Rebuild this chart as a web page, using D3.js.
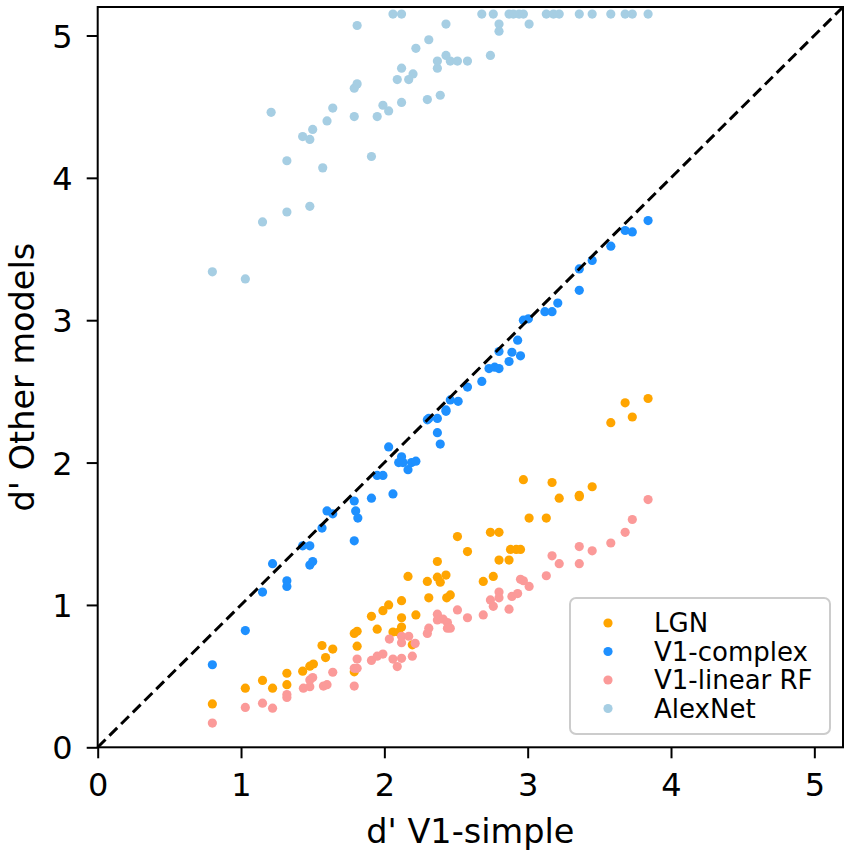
<!DOCTYPE html>
<html>
<head>
<meta charset="utf-8">
<script src="https://cdn.jsdelivr.net/npm/d3@7"></script>
<style>
  html, body { margin: 0; padding: 0; background: #fff; }
  svg { display: block; font-family: "DejaVu Sans", sans-serif; }
</style>
</head>
<body>
<svg id="chart"></svg>
<script>
// d' scatter: V1-simple vs other models, with identity line

const SERIES = [
  { key: 'lgn',    label: 'LGN',          color: '#FFA500' },
  { key: 'cplx',   label: 'V1-complex',   color: '#1E90FF' },
  { key: 'linrf',  label: 'V1-linear RF', color: '#FB9A99' },
  { key: 'alex',   label: 'AlexNet',      color: '#A6CEE3' },
];

const X_TICKS = [0, 1, 2, 3, 4, 5];
const Y_TICKS = [0, 1, 2, 3, 4, 5];

// [d' V1-simple, d' other model]
const LGN = [
  [0.80,0.305],[1.03,0.415],[1.15,0.47],[1.22,0.415],[1.32,0.52],[1.32,0.44],[1.43,0.535],
  [1.48,0.57],[1.505,0.585],[1.59,0.63],[1.565,0.715],[1.64,0.69],[1.79,0.53],[1.79,0.80],
  [1.81,0.815],[1.81,0.71],[1.91,0.92],[1.95,0.83],[1.99,0.96],[2.03,1.00],[2.06,0.81],
  [2.10,0.81],[2.12,0.845],[2.12,0.91],[2.12,1.03],[2.165,1.20],[2.195,0.72],[2.22,0.93],
  [2.30,1.165],[2.31,1.05],[2.37,1.305],[2.37,1.195],[2.39,1.16],[2.43,1.21],[2.435,1.05],
  [2.46,1.07],[2.51,1.48],[2.58,1.375],[2.69,1.165],[2.74,1.51],[2.76,1.20],[2.80,1.51],
  [2.80,1.315],[2.87,1.315],[2.88,1.39],[2.92,1.39],[2.95,1.39],[2.97,1.88],[3.01,1.61],
  [3.13,1.61],[3.17,1.86],[3.22,1.75],[3.36,1.77],[3.36,1.76],[3.45,1.83],[3.58,2.28],
  [3.68,2.42],[3.73,2.32],[3.84,2.45]
];

const V1_COMPLEX = [
  [0.80,0.58],[1.03,0.82],[1.15,1.09],[1.22,1.29],[1.32,1.17],[1.32,1.13],[1.43,1.415],
  [1.48,1.415],[1.48,1.28],[1.50,1.305],[1.565,1.54],[1.60,1.66],[1.64,1.64],[1.79,1.73],
  [1.80,1.66],[1.815,1.61],[1.79,1.45],[1.91,1.75],[1.95,1.91],[1.99,1.91],[2.06,1.78],
  [2.03,2.11],[2.12,2.04],[2.10,2.00],[2.13,2.00],[2.165,1.95],[2.19,2.00],[2.22,2.01],
  [2.30,2.30],[2.31,2.31],[2.37,2.31],[2.37,2.21],[2.39,2.13],[2.43,2.37],[2.43,2.36],
  [2.46,2.44],[2.515,2.43],[2.58,2.53],[2.68,2.57],[2.73,2.66],[2.77,2.67],[2.80,2.66],
  [2.87,2.71],[2.80,2.78],[2.89,2.775],[2.95,2.75],[2.93,2.86],[2.97,3.00],[3.005,3.01],
  [3.12,3.06],[3.17,3.06],[3.21,3.12],[3.36,3.36],[3.36,3.21],[3.45,3.42],[3.58,3.52],
  [3.68,3.63],[3.73,3.62],[3.84,3.70]
];

const V1_LINEAR_RF = [
  [0.80,0.17],[1.03,0.28],[1.15,0.31],[1.22,0.275],[1.32,0.37],[1.32,0.35],[1.435,0.415],
  [1.48,0.426],[1.48,0.473],[1.50,0.49],[1.575,0.43],[1.60,0.44],[1.64,0.527],[1.79,0.43],
  [1.79,0.555],[1.81,0.555],[1.81,0.62],[1.91,0.61],[1.95,0.64],[1.99,0.655],[2.035,0.76],
  [2.06,0.62],[2.09,0.567],[2.12,0.625],[2.12,0.78],[2.17,0.78],[2.12,0.735],[2.195,0.64],
  [2.215,0.73],[2.30,0.80],[2.31,0.837],[2.37,0.935],[2.37,0.895],[2.41,0.90],[2.44,0.876],
  [2.44,0.837],[2.46,0.837],[2.51,0.965],[2.58,0.91],[2.69,0.93],[2.74,1.035],[2.76,0.99],
  [2.80,1.09],[2.80,1.05],[2.87,0.97],[2.89,1.06],[2.93,1.08],[2.95,1.18],[2.97,1.17],
  [3.01,1.13],[3.13,1.205],[3.17,1.345],[3.22,1.29],[3.36,1.41],[3.36,1.29],[3.45,1.38],
  [3.58,1.435],[3.68,1.51],[3.73,1.60],[3.84,1.74]
];

const ALEXNET = [
  [0.80,3.34],[1.03,3.29],[1.15,3.69],[1.32,3.76],[1.48,3.80],[1.32,4.12],[1.57,4.07],
  [1.91,4.15],[1.21,4.46],[1.43,4.29],[1.48,4.27],[1.50,4.34],[1.60,4.40],[1.64,4.49],
  [1.79,4.43],[1.95,4.43],[1.99,4.51],[2.03,4.47],[2.12,4.53],[2.30,4.55],[2.39,4.58],
  [1.79,4.63],[1.81,4.66],[2.09,4.69],[2.17,4.69],[2.20,4.73],[2.12,4.77],[2.37,4.77],
  [2.37,4.82],[2.46,4.82],[2.51,4.82],[2.58,4.82],[2.43,4.86],[2.74,4.86],[2.22,4.91],
  [2.31,4.97],[1.81,5.07],[2.43,5.08],[2.80,5.08],[2.80,5.03],[3.01,5.08],
  [2.06,5.15],[2.12,5.15],[2.68,5.15],[2.76,5.15],[2.87,5.15],[2.90,5.15],[2.94,5.15],
  [2.97,5.15],[3.13,5.15],[3.18,5.15],[3.22,5.15],[3.36,5.15],[3.45,5.15],[3.58,5.15],
  [3.68,5.15],[3.73,5.15],[3.84,5.15]
];

const DATA = { lgn: LGN, cplx: V1_COMPLEX, linrf: V1_LINEAR_RF, alex: ALEXNET };

const W = 851, H = 858;
const MARGIN = { top: 7, right: 8, bottom: 110.7, left: 97.7 };
const DOMAIN_MAX = 5.2;

const svg = d3.select('#chart').attr('width', W).attr('height', H);

const x = d3.scaleLinear().domain([0, DOMAIN_MAX]).range([MARGIN.left, W - MARGIN.right]);
const y = d3.scaleLinear().domain([0, DOMAIN_MAX]).range([H - MARGIN.bottom, MARGIN.top]);

// ── Points ──────────────────────────────────────────────────────────────────
SERIES.forEach(s => {
  svg.append('g')
    .selectAll('circle')
    .data(DATA[s.key])
    .join('circle')
      .attr('cx', d => x(d[0]))
      .attr('cy', d => y(d[1]))
      .attr('r', 4.6)
      .attr('fill', s.color);
});

// identity line
svg.append('line')
  .attr('x1', x(0)).attr('y1', y(0))
  .attr('x2', x(DOMAIN_MAX)).attr('y2', y(DOMAIN_MAX))
  .attr('stroke', '#000')
  .attr('stroke-width', 3)
  .attr('stroke-dasharray', '11,5.5');

// ── Axes ────────────────────────────────────────────────────────────────────
const xAxis = svg.append('g')
  .attr('transform', `translate(0,${y(0)})`)
  .call(d3.axisBottom(x).tickValues(X_TICKS).tickFormat(d3.format('d'))
    .tickSize(11).tickPadding(15).tickSizeOuter(0));

const yAxis = svg.append('g')
  .attr('transform', `translate(${x(0)},0)`)
  .call(d3.axisLeft(y).tickValues(Y_TICKS).tickFormat(d3.format('d'))
    .tickSize(11).tickPadding(14).tickSizeOuter(0));

[xAxis, yAxis].forEach(a => {
  a.select('.domain').remove();
  a.selectAll('.tick line').attr('stroke', '#000').attr('stroke-width', 2);
  a.selectAll('.tick text')
    .attr('fill', '#000')
    .attr('font-size', '32px')
    .attr('font-family', '"DejaVu Sans", sans-serif');
});
yAxis.selectAll('.tick text').attr('dy', '0.36em');

// frame
svg.append('rect')
  .attr('x', x(0)).attr('y', y(DOMAIN_MAX))
  .attr('width', x(DOMAIN_MAX) - x(0))
  .attr('height', y(0) - y(DOMAIN_MAX))
  .attr('fill', 'none')
  .attr('stroke', '#000')
  .attr('stroke-width', 2);

// axis labels
svg.append('text')
  .attr('x', (x(0) + x(DOMAIN_MAX)) / 2)
  .attr('y', 843)
  .attr('text-anchor', 'middle')
  .attr('font-size', '33.5px')
  .text("d' V1-simple");

svg.append('text')
  .attr('transform', `translate(34,${(y(0) + y(DOMAIN_MAX)) / 2}) rotate(-90)`)
  .attr('text-anchor', 'middle')
  .attr('font-size', '33.5px')
  .text("d' Other models");

// ── Legend ──────────────────────────────────────────────────────────────────
const legend = svg.append('g').attr('transform', 'translate(570,598)');
legend.append('rect')
  .attr('width', 260).attr('height', 136)
  .attr('rx', 6)
  .attr('fill', '#fff').attr('fill-opacity', 0.8)
  .attr('stroke', '#ccc').attr('stroke-width', 2);

const rows = legend.selectAll('g.row')
  .data(SERIES)
  .join('g')
    .attr('class', 'row')
    .attr('transform', (d, i) => `translate(0,${25 + i * 28.5})`);

rows.append('circle').attr('cx', 38).attr('r', 4.6).attr('fill', d => d.color);
rows.append('text')
  .attr('x', 84)
  .attr('dy', '0.36em')
  .attr('font-size', '26px')
  .attr('fill', '#000')
  .text(d => d.label);
</script>
</body>
</html>
